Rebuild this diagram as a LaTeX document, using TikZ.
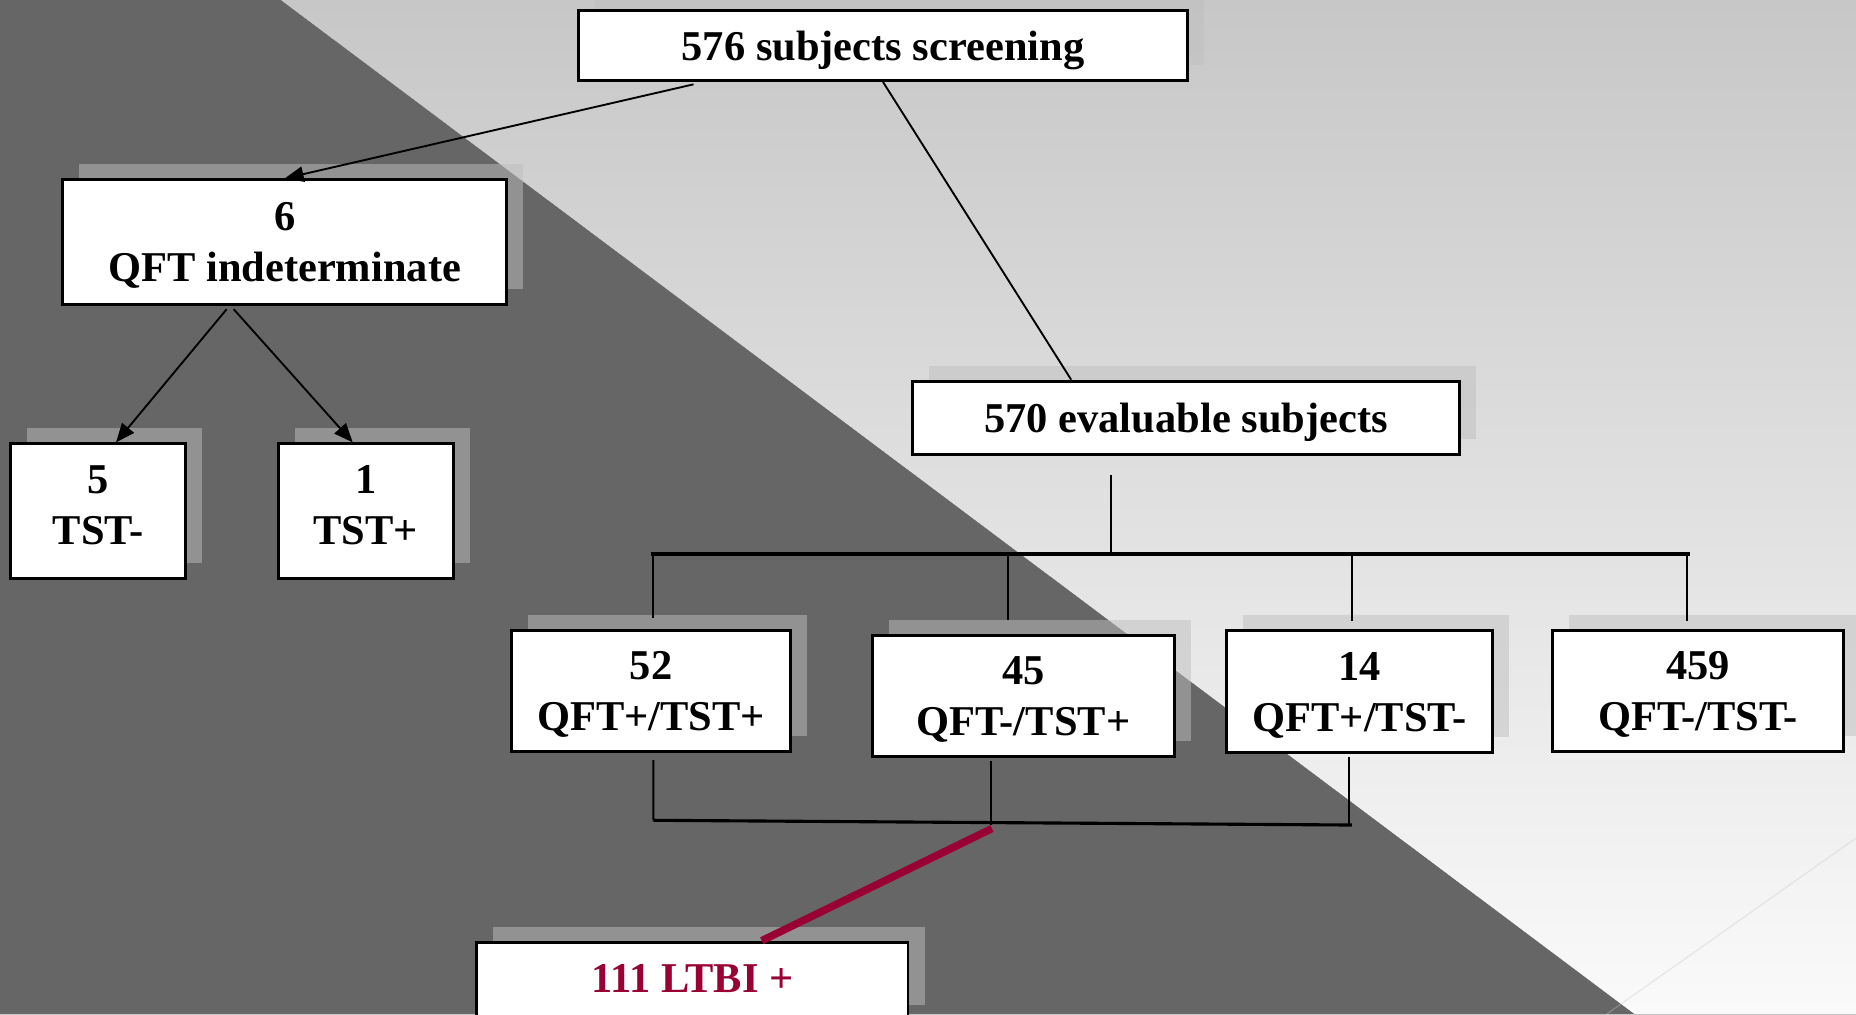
\documentclass[tikz,border=0pt]{standalone}
\usepackage{fontspec}
\setmainfont{Liberation Serif}
\usetikzlibrary{arrows.meta,shadows}
\definecolor{ltbired}{RGB}{153,0,51}
\definecolor{darkbg}{RGB}{102,102,102}
\definecolor{bgtop}{RGB}{199,199,199}
\definecolor{bgmid}{RGB}{232,232,232}
\definecolor{bgbot}{RGB}{250,250,250}
\begin{document}
\begin{tikzpicture}[x=0.01cm,y=-0.01cm,
  box/.style={draw=black,line width=0.7pt,fill=white,align=center,inner sep=0pt,text depth=0pt,
    font=\fontsize{10.2}{12.2}\selectfont\bfseries,
    general shadow={shadow xshift=0.14cm,shadow yshift=0.13cm,fill=gray!50,opacity=0.5}},
  link/.style={line width=0.45pt},
  arr/.style={link,-{Triangle[length=1.6mm,width=1.3mm]}}]
\useasboundingbox (0,0) rectangle (1568,857);
\fill[top color=bgtop,middle color=bgmid,bottom color=bgbot] (237,0) -- (1568,0) -- (1568,857) -- (1381,857) -- cycle;
\fill[darkbg] (0,0) -- (237,0) -- (1381,857) -- (0,857) -- cycle;
\draw[gray!45,opacity=0.35,line width=0.3pt] (1568,708) -- (1357,857);
%\draw[very thin,color=red,step=100] (0,0) grid (1568,857);
\node[box,minimum width=5.14cm,minimum height=0.59cm,text height=0.26cm] (screen) at (746,38.5) {576 subjects screening};
\node[box,minimum width=3.75cm,minimum height=1.05cm] (indet) at (240.5,204.5) {6\\QFT indeterminate};
\node[box,minimum width=1.48cm,minimum height=1.14cm,text depth=0.11cm] (tstneg) at (83,432) {5\\TST-};
\node[box,minimum width=1.48cm,minimum height=1.14cm,text depth=0.11cm] (tstpos) at (309,432) {1\\TST+};
\node[box,minimum width=4.62cm,minimum height=0.62cm] (evalu) at (1002,353) {570 evaluable subjects};
\node[box,minimum width=2.36cm,minimum height=1.02cm] (pp) at (550,584) {52\\QFT+/TST+};
\node[box,minimum width=2.55cm,minimum height=1.02cm] (np) at (864.5,588) {45\\QFT-/TST+};
\node[box,minimum width=2.25cm,minimum height=1.03cm] (pn) at (1148.5,584.5) {14\\QFT+/TST-};
\node[box,minimum width=2.45cm,minimum height=1.02cm] (nn) at (1434.5,584) {459\\QFT-/TST-};
\node[box,minimum width=3.64cm,minimum height=0.66cm,text depth=0.04cm,text=ltbired] (ltbi) at (585,829) {111 LTBI +};
\draw[arr] ([xshift=-1.6cm,yshift=-0.02cm]screen.south) -- (indet.north);
\draw[link] (screen.south) -- ([xshift=-0.97cm]evalu.north);
\draw[arr] ([xshift=-0.49cm,yshift=-0.03cm]indet.south) -- ([xshift=0.15cm]tstneg.north);
\draw[arr] ([xshift=-0.43cm,yshift=-0.03cm]indet.south) -- ([xshift=-0.11cm]tstpos.north);
\coordinate (busl) at (550,468);
\coordinate (busr) at (1428,468);
\draw[line width=0.85pt] (busl) -- (busr);
\draw[link] ([xshift=-0.635cm,yshift=-0.16cm]evalu.south) coordinate (drop) -- (drop |- busl);
\foreach \n/\dx/\gap in {pp/0.02/0.1,np/-0.13/0.12,pn/-0.06/0.07,nn/-0.09/0.07}
  \draw[link] ([xshift=\dx cm,yshift=\gap cm]\n.north) coordinate (top) -- (top |- busl);
\coordinate (brl) at (552,693);
\coordinate (brr) at (1142,697);
\coordinate (brm) at (838,700);
\draw[line width=0.75pt] (brl) -- (brr);
\draw[link] ([xshift=0.02cm,yshift=-0.06cm]pp.south) -- (brl);
\draw[link] ([xshift=-0.27cm,yshift=-0.03cm]np.south) coordinate (mid) -- (mid |- brr);
\draw[link] ([xshift=-0.085cm,yshift=-0.02cm]pn.south) coordinate (rgt) -- (rgt |- brr);
\draw[ltbired,line width=1.8pt] (brm) -- ([xshift=0.585cm]ltbi.north);
\end{tikzpicture}
\end{document}
